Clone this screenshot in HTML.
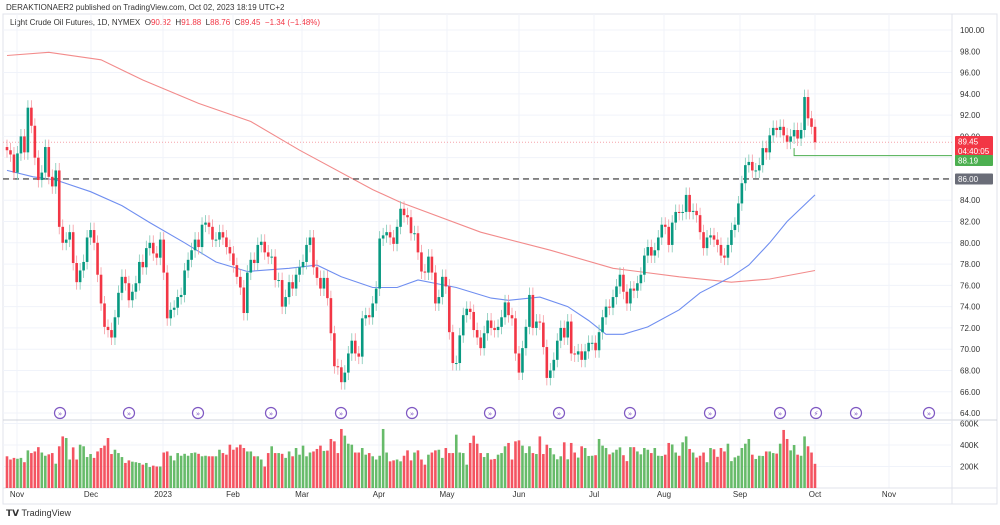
<!DOCTYPE html>
<html><head><meta charset="utf-8">
<style>
body{margin:0;background:#fff;font-family:"Liberation Sans",sans-serif;}
#wrap{position:relative;width:1000px;height:525px;overflow:hidden;background:#fff;}
.hdr{position:absolute;left:6px;top:3px;font-size:8px;color:#333;}
.leg{position:absolute;left:10px;top:18px;font-size:8px;color:#333;}
.leg .r{color:#f23645;}
.logo{position:absolute;left:6px;top:508px;font-size:9px;color:#333;}
</style></head>
<body>
<div id="wrap">
<div class="hdr">DERAKTIONAER2 published on TradingView.com, Oct 02, 2023 18:19 UTC+2</div>
<div class="leg">Light Crude Oil Futures, 1D, NYMEX&nbsp; O<span class="r">90.82</span>&nbsp; H<span class="r">91.88</span>&nbsp; L<span class="r">88.76</span>&nbsp; C<span class="r">89.45</span>&nbsp; <span class="r">−1.34 (−1.48%)</span></div>
<svg id="chart" width="1000" height="525" style="position:absolute;left:0;top:0"></svg>
<div class="logo"><b>𝗧𝗩</b> TradingView</div>
</div>
<script>
const closes=[88.7,88.3,86.6,88.4,90,88.5,92.7,91,88,85.9,86.6,89,86.2,85.3,86.8,81.5,80,80.3,81,78.1,76.3,77.4,78.2,80.5,81.2,80,77,74.3,72.1,71.8,71.1,73,75.3,76.8,76.2,74.6,75.4,76.2,78.2,77.7,79.5,80,79,78.6,80.3,77.2,72.9,73.7,73.9,74.9,75.1,77.4,78.4,79.3,80.3,79.6,81.7,81.9,81.5,80.3,80.3,81,80.5,79.6,79,77.9,76.8,75.8,73.4,77.2,
78.4,78.1,79.8,80.1,79.1,78.7,78.7,76.5,76.5,74,74.9,76.3,75.7,77,77.7,78.2,79.8,80.5,77.7,76.7,75.7,76.7,74.8,71.5,68.4,68.3,66.9,67.8,69.6,70.8,69.6,69.3,72.9,73.2,73,74.3,75.7,
80.4,80.7,81,80.5,79.9,81.5,83.2,82.6,82.4,80.9,80.9,79.1,77.3,77.2,78.7,77.2,74.3,74.9,76.8,75.9,71.6,68.7,68.7,71.3,73.2,73.8,73.5,71.8,71.1,70.1,71.5,72.7,
72,71.8,72.1,73,74.4,73.2,72.9,69.6,67.8,70.1,72.1,75.1,72,72.6,72.5,70.2,67.3,68,69,70.8,72,71.1,72.6,69.6,69.5,69.8,69,69.8,70.6,70.6,69.9,71.6,73,74,73.9,74.9,75.9,77,75.4,74.3,75.7,75.5,76.2,77,78.8,79.6,78.8,79.3,80.5,81.7,81.5,79.8,81.9,82.9,82.8,82.9,84.5,82.9,83,82.6,81,79.5,80.5,80.7,80.3,79.8,78.8,78.6,79.8,
81.2,81.7,83.7,85.6,87.3,87.6,86.8,86.8,87.3,88.9,88.5,90.1,90.8,90.6,90.9,90.1,89.5,90,90.6,89.8,90.6,93.7,91.7,90.9,89.45];
const volumes=[295,265,280,272,280,240,350,325,340,380,330,300,313,325,226,388,480,465,265,378,265,403,388,288,316,280,340,372,394,465,316,356,325,288,233,257,245,240,233,217,233,195,208,200,200,330,340,300,257,325,300,318,300,325,330,318,295,300,295,295,295,356,325,310,403,356,378,403,372,340,340,295,295,265,200,325,388,325,325,318,280,340,295,372,310,394,295,330,340,363,394,345,348,456,434,325,549,487,412,403,330,330,372,310,325,295,265,300,549,330,248,257,265,248,300,350,257,330,350,265,217,310,330,350,356,280,372,325,325,496,330,325,217,419,487,412,325,288,325,265,270,310,325,388,419,265,434,443,394,325,388,325,316,480,316,403,372,313,267,295,425,267,419,330,283,388,372,298,300,305,456,394,372,313,330,356,378,305,250,380,380,340,313,372,356,325,372,300,298,310,419,405,330,300,425,480,363,330,283,300,330,240,372,360,290,372,340,412,250,285,300,372,412,456,310,270,300,298,340,340,325,320,412,540,456,350,400,310,300,480,388,330,225];
const ma200Idx=[0,12,27,39,55,70,84,105,113,136,156,174,193,208,219,232];
const ma200Val=[97.6,97.9,97.2,95.3,93.1,91.4,88.7,85,83.8,81,79.3,77.6,76.8,76.3,76.6,77.4];
const ma50Idx=[0,7.5,14,24,33,41,51,60,69,81,89,96,105,112,118,129,139,144,153,161,167,172,177,184,193,199,208,213,219,224,232];
const ma50Val=[86.8,86.2,85.9,84.8,83.5,81.9,80,78.2,77.3,77.6,77.9,76.8,75.8,75.8,76.5,75.8,74.8,74.6,74.9,74,72.7,71.4,71.4,72.1,73.7,75.3,76.8,77.9,80,82,84.5];
const priceTicks=[64,66,68,70,72,74,76,78,80,82,84,86,88,90,92,94,96,98,100];
const volTicks=[200,400,600];
const monthLabels=["Nov","Dec","2023","Feb","Mar","Apr","May","Jun","Jul","Aug","Sep","Oct","Nov"];
const monthX=[17,91,163,233,302,379,447,519,594,664,740,815,889];
const eventX=[60,129,198,271,341,412,490,559,630,710,780,816,856,929];

const svg=document.getElementById('chart');
const NS='http://www.w3.org/2000/svg';
function el(t,a,p){const e=document.createElementNS(NS,t);for(const k in a)e.setAttribute(k,a[k]);(p||svg).appendChild(e);return e;}
const x=i=>7+i*(808/(closes.length-1));
const y=p=>30+(100-p)*10.64;
const vy=v=>488-v*0.1075;
const plotR=952;

const fr=el('rect',{x:3,y:14,width:994,height:490,fill:'none',stroke:'#e0e3eb','stroke-width':1});


priceTicks.forEach(t=>{const g=el('line',{x1:3,x2:plotR,y1:y(t),y2:y(t),stroke:'#f0f3fa'});


const lb=el('text',{x:960,y:y(t)+3,'font-size':8,fill:'#333','font-family':'Liberation Sans'});lb.textContent=t.toFixed(2);

});
monthX.forEach((mx,i)=>{const g=el('line',{x1:mx,x2:mx,y1:14,y2:488,stroke:'#f0f3fa'});


const lb=el('text',{x:mx,y:497,'font-size':8,fill:'#333','text-anchor':'middle','font-family':'Liberation Sans'});lb.textContent=monthLabels[i];

});
const sep=el('line',{x1:3,x2:997,y1:420,y2:420,stroke:'#d1d4dc'});


const ax=el('line',{x1:plotR,x2:plotR,y1:14,y2:504,stroke:'#e0e3eb'});


const tax=el('line',{x1:3,x2:997,y1:488,y2:488,stroke:'#e0e3eb'});


volTicks.forEach(t=>{const g=el('line',{x1:3,x2:plotR,y1:vy(t),y2:vy(t),stroke:'#f0f3fa'});


const lb=el('text',{x:960,y:vy(t)+3,'font-size':8,fill:'#333','font-family':'Liberation Sans'});lb.textContent=t+'K';

});

function maPath(idx,val){return idx.map((i,k)=>(k?'L':'M')+x(i).toFixed(1)+' '+y(val[k]).toFixed(1)).join(' ');}
const r=el('path',{d:maPath(ma200Idx,ma200Val),fill:'none',stroke:'#f28b8b','stroke-width':1.1});


const b=el('path',{d:maPath(ma50Idx,ma50Val),fill:'none',stroke:'#6f8ef0','stroke-width':1.1});



const dl=el('line',{x1:3,x2:plotR,y1:y(86),y2:y(86),stroke:'#555','stroke-width':1.3,'stroke-dasharray':'6 4'});


const pl=el('line',{x1:3,x2:plotR,y1:y(89.45),y2:y(89.45),stroke:'#f5a3aa','stroke-width':1,'stroke-dasharray':'1 2'});


const gl=el('path',{d:`M${x(226)} ${y(88.9)} L${x(226)} ${y(88.19)} L${plotR} ${y(88.19)}`,fill:'none',stroke:'#4caf50','stroke-width':1});



const cw=2.6;
closes.forEach((c,i)=>{
  const o=i?closes[i-1]:c+0.3;
  const up=c>=o;
  const col=up?'#089981':'#f23645';
  const hi=Math.max(o,c)+0.7, lo=Math.min(o,c)-0.7;
  const w=el('line',{x1:x(i),x2:x(i),y1:y(hi),y2:y(lo),stroke:up?'#7fc8b5':'#f59aa2','stroke-width':0.8});
  
  
  const top=y(Math.max(o,c)),h=Math.max(1,Math.abs(y(o)-y(c)));
  const rc=el('rect',{x:x(i)-cw/2,y:top,width:cw,height:h,fill:col});
  
  
  const v=volumes[i];
  const vb=el('rect',{x:x(i)-1.3,y:vy(v),width:2.6,height:488-vy(v),fill:up?'#4caf50':'#f23645','fill-opacity':0.85});
  
  
});

eventX.forEach((ex,k)=>{
  const cc=el('circle',{cx:ex,cy:413,r:5.5,fill:'#fff',stroke:'#7e57c2','stroke-width':1.2});
  
  
  const t=el('text',{x:ex,y:416,'font-size':7,fill:'#7e57c2','text-anchor':'middle','font-family':'DejaVu Sans'});t.textContent=k==11?'⚡':'»';
  
  
});

function tag(top,h,bg,lines,name){
  const g=el('rect',{x:955,y:top,width:38,height:h,fill:bg,rx:1});
  
  
  lines.forEach((s,k)=>{const t=el('text',{x:958,y:top+8.5+k*9.5,'font-size':8,fill:'#fff','font-family':'Liberation Sans'});t.textContent=s;
  
  });
}
tag(136,20,'#f23645',['89.45','04:40:05'],'last-price-label');
tag(155,11,'#4caf50',['88.19'],'level-88-19-label');
tag(y(86)-5.5,11,'#6a6d78',['86.00'],'level-86-label');
</script>
</body></html>
